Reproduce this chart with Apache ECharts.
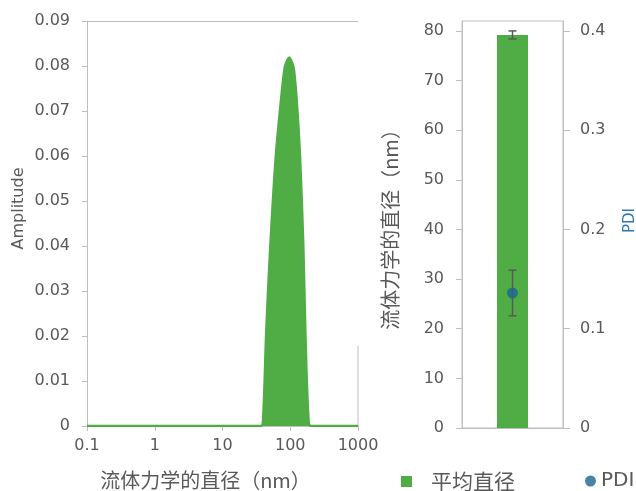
<!DOCTYPE html>
<html>
<head>
<meta charset="utf-8">
<script src="https://cdn.jsdelivr.net/npm/echarts@6/dist/echarts.min.js"></script>
<style>
  html, body { margin: 0; padding: 0; background: #fff; }
  #main { width: 636px; height: 491px; }
</style>
</head>
<body>
<div id="main"></div>
<script>
// size distribution (nm)
var sizes = [0.1, 37.0, 40.0, 44.3, 50.8, 61.2, 73.0, 81.7, 86.5, 96.8, 107.2, 113.6, 124.5, 139.3, 155.9, 166.8, 184.6, 202, 1000];
var amps  = [0, 0, 0.0024, 0.0213, 0.04, 0.06, 0.0724, 0.0791, 0.0806, 0.0819, 0.0806, 0.0791, 0.0724, 0.06, 0.04, 0.0213, 0.0024, 0, 0];

// right plot: mean diameter and PDI with their errors
var barCats = [''];
var meanDiam = [79.2];
var meanDiamErr = [0.8];
var pdi = [0.136];
var pdiErr = [0.023];
var diamTicks = [0, 10, 20, 30, 40, 50, 60, 70, 80];
var pdiTicks = [0, 0.1, 0.2, 0.3, 0.4];

var green = '#50ad45';
var blue = '#1b6592';
var grey = '#bfbfbf';
var txt = '#595959';
var cjk = '"Noto Sans CJK SC", sans-serif';
var lat = '"DejaVu Sans", sans-serif';

var curve = sizes.map(function (s, i) { return [s, amps[i]]; });

function errItem(params, api) {
  var x = api.value(0), v = api.value(1), e = api.value(2);
  var hi = api.coord([x, v + e]);
  var lo = api.coord([x, v - e]);
  var cap = 4;
  var st = { stroke: txt, lineWidth: 1.5 };
  return {
    type: 'group',
    children: [
      { type: 'line', shape: { x1: hi[0], y1: hi[1], x2: lo[0], y2: lo[1] }, style: st },
      { type: 'line', shape: { x1: hi[0] - cap, y1: hi[1], x2: hi[0] + cap, y2: hi[1] }, style: st },
      { type: 'line', shape: { x1: lo[0] - cap, y1: lo[1], x2: lo[0] + cap, y2: lo[1] }, style: st }
    ]
  };
}

var chart = echarts.init(document.getElementById('main'));
chart.setOption({
  animation: false,
  backgroundColor: '#fff',
  grid: [
    { left: 87, right: 278, top: 21, bottom: 65, outerBoundsMode: 'none' },
    { left: 462, right: 73, top: 21, bottom: 63, outerBoundsMode: 'none', show: true, borderColor: grey, borderWidth: 1 }
  ],
  legend: [
    {
      data: ['平均直径'], left: 396, top: 466, itemWidth: 11, itemHeight: 11,
      icon: 'rect', selectedMode: false,
      textStyle: { color: txt, fontSize: 21, fontFamily: cjk, padding: [0, 0, 0, 14] }
    },
    {
      data: ['PDI'], left: 580, top: 466, itemWidth: 11, itemHeight: 11,
      icon: 'circle', selectedMode: false,
      textStyle: { color: txt, fontSize: 20, fontFamily: lat }
    }
  ],
  xAxis: [
    {
      type: 'log', gridIndex: 0, min: 0.1, max: 1000, logBase: 10,
      name: '流体力学的直径（nm）', nameLocation: 'middle', nameGap: 44,
      nameTextStyle: { color: txt, fontSize: 20, fontFamily: cjk, padding: [0, 34, 0, 0] },
      axisLine: { lineStyle: { color: grey } },
      axisTick: { show: true, length: 5, lineStyle: { color: grey } },
      minorTick: { show: false },
      splitLine: { show: false },
      axisLabel: {
        color: txt, fontSize: 16, fontFamily: lat, margin: 12,
        formatter: function (v) { return String(+(+v).toPrecision(3)); }
      }
    },
    {
      type: 'value', gridIndex: 0, position: 'top', min: 0, max: 1,
      axisLine: { show: true, lineStyle: { color: grey } },
      axisTick: { show: false }, axisLabel: { show: false }, splitLine: { show: false }
    },
    {
      type: 'category', gridIndex: 1, data: barCats,
      axisLine: { lineStyle: { color: grey } },
      axisTick: { show: false }, axisLabel: { show: false }
    }
  ],
  yAxis: [
    {
      type: 'value', gridIndex: 0, min: 0, max: 0.09, interval: 0.01,
      name: 'Amplitude', nameLocation: 'middle', nameGap: 60,
      nameTextStyle: { color: txt, fontSize: 16, fontFamily: lat, padding: [0, 0, 0, 30] },
      axisLine: { show: true, lineStyle: { color: grey } },
      axisTick: { show: true, length: 5, lineStyle: { color: grey } },
      splitLine: { show: false },
      axisLabel: {
        color: txt, fontSize: 16, fontFamily: lat, margin: 17,
        formatter: function (v) { return v === 0 ? '0' : v.toFixed(2); }
      }
    },
    {
      type: 'value', gridIndex: 1, min: 0, max: 82,
      name: '流体力学的直径（nm）', nameLocation: 'middle', nameGap: 62,
      nameTextStyle: { color: txt, fontSize: 20, fontFamily: cjk },
      axisLine: { show: true, lineStyle: { color: grey } },
      axisTick: { show: true, length: 6, lineStyle: { color: grey }, customValues: diamTicks },
      splitLine: { show: false },
      axisLabel: { color: txt, fontSize: 16, fontFamily: lat, margin: 18, customValues: diamTicks }
    },
    {
      type: 'value', gridIndex: 1, position: 'right', min: 0, max: 0.41,
      name: 'PDI', nameLocation: 'middle', nameGap: 60, nameRotate: 90,
      nameTextStyle: { color: '#2e7ab0', fontSize: 15, fontFamily: lat, padding: [0, 0, 0, 8] },
      axisLine: { show: true, lineStyle: { color: grey } },
      axisTick: { show: true, length: 7, lineStyle: { color: grey }, customValues: pdiTicks },
      splitLine: { show: false },
      axisLabel: {
        color: txt, fontSize: 16, fontFamily: lat, margin: 17, customValues: pdiTicks,
        formatter: function (v) { return v === 0 ? '0' : v.toFixed(1); }
      }
    }
  ],
  series: [
    {
      type: 'line', xAxisIndex: 0, yAxisIndex: 0, data: curve,
      showSymbol: false, smooth: 0.3,
      lineStyle: { color: green, width: 2.5 },
      areaStyle: { color: green, opacity: 1 },
      itemStyle: { color: green }
    },
    {
      name: '平均直径', type: 'bar', xAxisIndex: 2, yAxisIndex: 1,
      data: meanDiam, barWidth: 31, itemStyle: { color: green }
    },
    {
      type: 'custom', xAxisIndex: 2, yAxisIndex: 1, z: 5,
      data: meanDiam.map(function (v, i) { return [i, v, meanDiamErr[i]]; }),
      renderItem: errItem
    },
    {
      type: 'custom', xAxisIndex: 2, yAxisIndex: 2, z: 5,
      data: pdi.map(function (v, i) { return [i, v, pdiErr[i]]; }),
      renderItem: errItem
    },
    {
      name: 'PDI', type: 'scatter', xAxisIndex: 2, yAxisIndex: 2, z: 6,
      data: pdi.map(function (v, i) { return [i, v]; }),
      symbolSize: 11, itemStyle: { color: blue }
    }
  ],
  graphic: [
    { type: 'line', shape: { x1: 358, y1: 346, x2: 358, y2: 426 }, style: { stroke: grey, lineWidth: 1 } }
  ]
});
</script>
</body>
</html>
